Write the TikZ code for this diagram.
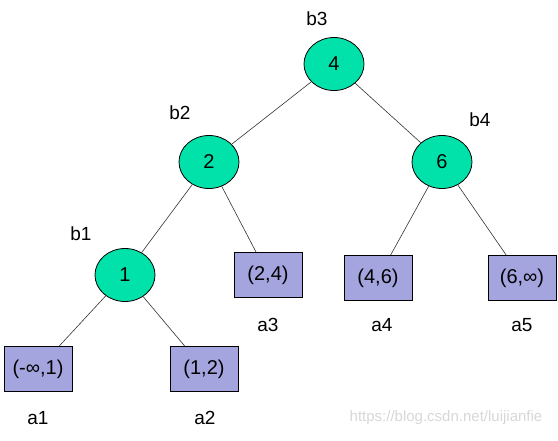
\documentclass[tikz,border=0pt]{standalone}
\usepackage{fontspec}
\setmainfont{Liberation Sans}
\usetikzlibrary{shapes.geometric}
\definecolor{ellfill}{RGB}{0,226,170}
\definecolor{boxfill}{RGB}{164,164,222}
\definecolor{edgecol}{RGB}{50,50,50}
\definecolor{wmark}{RGB}{215,215,215}
\tikzset{
  knot/.style={ellipse, draw=black, line width=0.8pt, fill=ellfill, minimum width=60pt, minimum height=53pt, inner sep=0pt, font=\fontsize{20}{24}\selectfont},
  leafbox/.style={rectangle, draw=black, line width=0.8pt, fill=boxfill, minimum width=68pt, minimum height=45pt, inner sep=0pt, font=\fontsize{20}{24}\selectfont},
  tag/.style={inner sep=0pt, font=\fontsize{19}{22}\selectfont},
  edge/.style={draw=edgecol, line width=0.6pt}
}
\begin{document}
\begin{tikzpicture}[x=1pt,y=-1pt]
\useasboundingbox (0,0) rectangle (558,440);
% internal nodes
\node[knot] (n4) at (334,64) {4};
\node[knot] (n2) at (209,162) {2};
\node[knot] (n6) at (442,162) {6};
\node[knot] (n1) at (125,275) {1};
% leaves
\node[leafbox] (l24) at (268,275) {(2,4)};
\node[leafbox] (l46) at (378,278) {(4,6)};
\node[leafbox] (l6i) at (522,278) {(6,∞)};
\node[leafbox] (lm1) at (38,369) {(-∞,1)};
\node[leafbox] (l12) at (204,369) {(1,2)};
% labels
\node[tag] (tb3) at (317,19) {b3};
\node[tag] (tb2) at (180,113) {b2};
\node[tag] (tb4) at (480,120) {b4};
\node[tag] (tb1) at (81,234) {b1};
\node[tag] (ta3) at (268,325) {a3};
\node[tag] (ta4) at (382,325) {a4};
\node[tag] (ta5) at (522,325) {a5};
\node[tag] (ta1) at (38,418) {a1};
\node[tag] (ta2) at (205,418) {a2};
\node[inner sep=0pt, text=wmark, font=\fontsize{15}{18}\selectfont] (wm) at (446,418) {https://blog.csdn.net/luijianfie};
% edges
\draw[edge] (n4) -- (n2);
\draw[edge] (n4) -- (n6);
\draw[edge] (n2) -- (n1);
\draw[edge] (n2) -- (l24);
\draw[edge] (n6) -- (l46);
\draw[edge] (n6) -- (l6i);
\draw[edge] (n1) -- (lm1);
\draw[edge] (n1) -- (l12);
\end{tikzpicture}
\end{document}
